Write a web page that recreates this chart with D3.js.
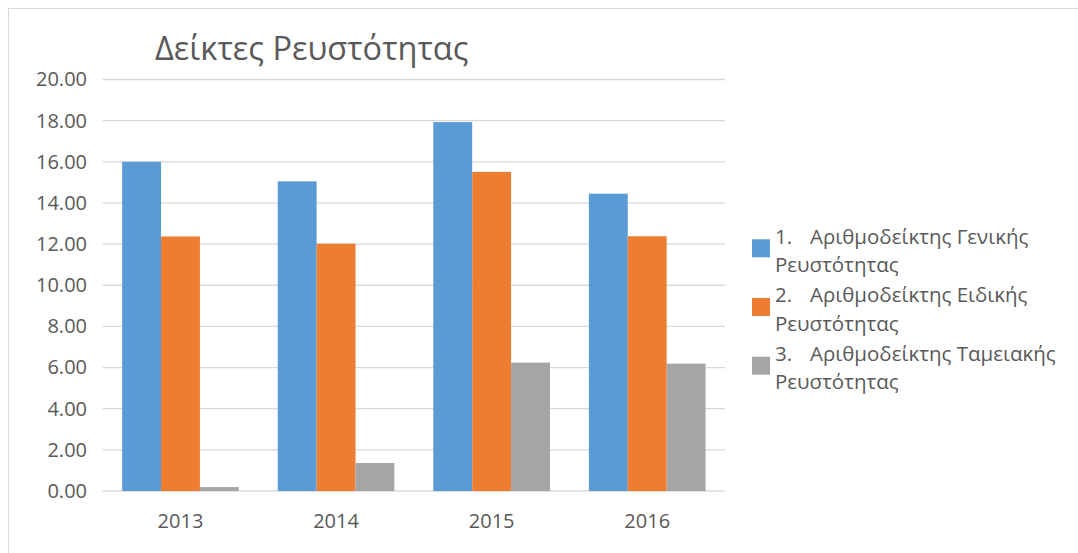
<!DOCTYPE html>
<html>
<head>
<meta charset="utf-8">
<style>
body { margin: 0; background: #fff; }
svg { display: block; }
text { font-family: "Open Sans", sans-serif; fill: #595959; }
</style>
</head>
<body>
<div id="chart"></div>
<script src="https://d3js.org/d3.v7.min.js"></script>
<script>
// data
var years = ["2013", "2014", "2015", "2016"]
var general = [16.00, 15.05, 17.93, 14.45]
var special = [12.37, 12.02, 15.51, 12.38]
var cash = [0.19, 1.36, 6.24, 6.19]
var seriesNames = [
  ["1.", "Αριθμοδείκτης Γενικής", "Ρευστότητας"],
  ["2.", "Αριθμοδείκτης Ειδικής", "Ρευστότητας"],
  ["3.", "Αριθμοδείκτης Ταμειακής", "Ρευστότητας"]
]
var yTicks = [0, 2, 4, 6, 8, 10, 12, 14, 16, 18, 20]
var colors = ["#5b9bd5", "#ed7d31", "#a5a5a5"]

var width = 1078, height = 553
var plotLeft = 102.7, plotRight = 725, plotTop = 79.5, plotBottom = 491

var series = [general, special, cash]

var svg = d3.select("#chart")
  .append("svg")
    .attr("width", width)
    .attr("height", height)

// chart frame
svg.append("rect")
  .attr("x", 8.5).attr("y", 8.5)
  .attr("width", 1200).attr("height", 700)
  .attr("fill", "#fff")
  .attr("stroke", "#d9d9d9")

var x0 = d3.scaleBand()
  .domain(years)
  .range([plotLeft, plotRight])
  .paddingInner(0.25)
  .paddingOuter(0.125)

var x1 = d3.scaleBand()
  .domain(d3.range(series.length))
  .range([0, x0.bandwidth()])

var y = d3.scaleLinear()
  .domain([0, 20])
  .range([plotBottom, plotTop])

// gridlines
svg.append("g")
  .selectAll("line")
  .data(yTicks)
  .enter()
  .append("line")
    .attr("x1", plotLeft).attr("x2", plotRight)
    .attr("y1", d => y(d)).attr("y2", d => y(d))
    .attr("stroke", "#d9d9d9")
    .attr("stroke-width", 1.3)

// y axis labels
var yAxis = d3.axisLeft(y).tickValues(yTicks).tickFormat(d3.format(".2f")).tickSize(0).tickPadding(0)
var gy = svg.append("g")
  .attr("transform", "translate(87,0)")
  .call(yAxis)
gy.select(".domain").remove()
gy.selectAll("text")
  .style("font-family", "Open Sans")
  .style("font-size", "20px")
  .attr("fill", "#595959")

// x axis labels
var xAxis = d3.axisBottom(x0).tickSize(0).tickPadding(0)
var gx = svg.append("g")
  .attr("transform", "translate(0," + plotBottom + ")")
  .call(xAxis)
gx.select(".domain").remove()
gx.selectAll("text")
  .attr("dy", null)
  .attr("y", 37)
  .style("font-family", "Open Sans")
  .style("font-size", "20px")
  .attr("fill", "#595959")

// bars
svg.append("g")
  .selectAll("g")
  .data(years)
  .enter()
  .append("g")
    .attr("transform", d => "translate(" + x0(d) + ",0)")
  .selectAll("rect")
  .data((d, i) => series.map((s, k) => ({k: k, v: s[i]})))
  .enter()
  .append("rect")
    .attr("x", d => x1(d.k))
    .attr("width", x1.bandwidth())
    .attr("y", d => y(d.v))
    .attr("height", d => y(0) - y(d.v))
    .attr("fill", d => colors[d.k])

// title
svg.append("text")
  .attr("x", 155)
  .attr("y", 60)
  .style("font-size", "32.5px")
  .text("Δείκτες Ρευστότητας")

// legend
var legend = svg.append("g")
  .selectAll("g")
  .data(seriesNames)
  .enter()
  .append("g")
    .attr("transform", (d, i) => "translate(752," + (239.3 + i * 58.7) + ")")

legend.append("rect")
  .attr("width", 18).attr("height", 18)
  .attr("fill", (d, i) => colors[i])

legend.append("text")
  .attr("x", 23).attr("y", 4.3)
  .style("font-size", "20.5px")
  .text(d => d[0])

legend.append("text")
  .attr("x", 58).attr("y", 4.3)
  .style("font-size", "20.5px")
  .text(d => d[1])

legend.append("text")
  .attr("x", 23).attr("y", 32.7)
  .style("font-size", "20.5px")
  .text(d => d[2])
</script>
</body>
</html>
